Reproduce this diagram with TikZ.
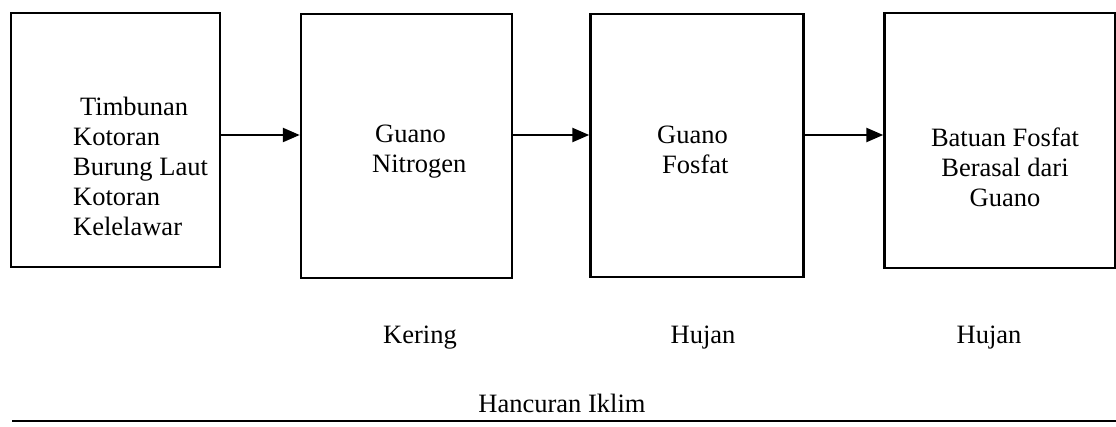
\documentclass[tikz,border=0pt]{standalone}
\usepackage{fontspec}
\setmainfont{Liberation Serif}
\usetikzlibrary{arrows.meta}

\begin{document}
\begin{tikzpicture}[x=1pt, y=-1pt]
  \tikzstyle{boite}=[draw, line width=2.5pt, inner sep=0, anchor=center];
  \tikzstyle{etiquette}=[inner sep=0, font=\fontsize{26.5}{30}\selectfont];
  \tikzstyle{fleche}=[line width=2.5pt, -{Triangle[length=17pt, width=14pt]}];

  \useasboundingbox (0,0) rectangle (1116,427);

  \node[boite, minimum width=209pt, minimum height=254pt] (tas) at (115.5,140) {};
  \node[boite, minimum width=211pt, minimum height=264pt] (nitro) at (406.5,146) {};
  \node[boite, minimum width=213pt, minimum height=263pt] (fosfat) at (697,145.5) {};
  \node[boite, minimum width=231pt, minimum height=255pt] (batuan) at (1000,140.5) {};

  \node[etiquette, align=left, anchor=west] (ttas) at (73,166)
    {\hspace{7pt}Timbunan\\Kotoran\\Burung Laut\\Kotoran\\Kelelawar};
  \node[etiquette, align=left, anchor=west] (tnitro) at (372,152)
    {\hspace{3pt}Guano\\Nitrogen};
  \node[etiquette, align=left, anchor=west] (tfosfat) at (657,150)
    {Guano\\\hspace{5pt}Fosfat};
  \node[etiquette, align=center] (tbatuan) at (1005,167)
    {Batuan Fosfat\\Berasal dari\\Guano};

  \coordinate (niveau) at (0,135);
  \draw[fleche] (tas.east |- niveau) -- (nitro.west |- niveau);
  \draw[fleche] (nitro.east |- niveau) -- (fosfat.west |- niveau);
  \draw[fleche] (fosfat.east |- niveau) -- (batuan.west |- niveau);

  \node[etiquette, anchor=base] (kering) at (420,344) {Kering};
  \node[etiquette, anchor=base] (hujana) at (703,344) {Hujan};
  \node[etiquette, anchor=base] (hujanb) at (989,344) {Hujan};
  \node[etiquette, anchor=base] (iklim) at (562,412) {Hancuran Iklim};

  \draw[line width=2.5pt] (12,421) -- (1116,421);
\end{tikzpicture}
\end{document}
